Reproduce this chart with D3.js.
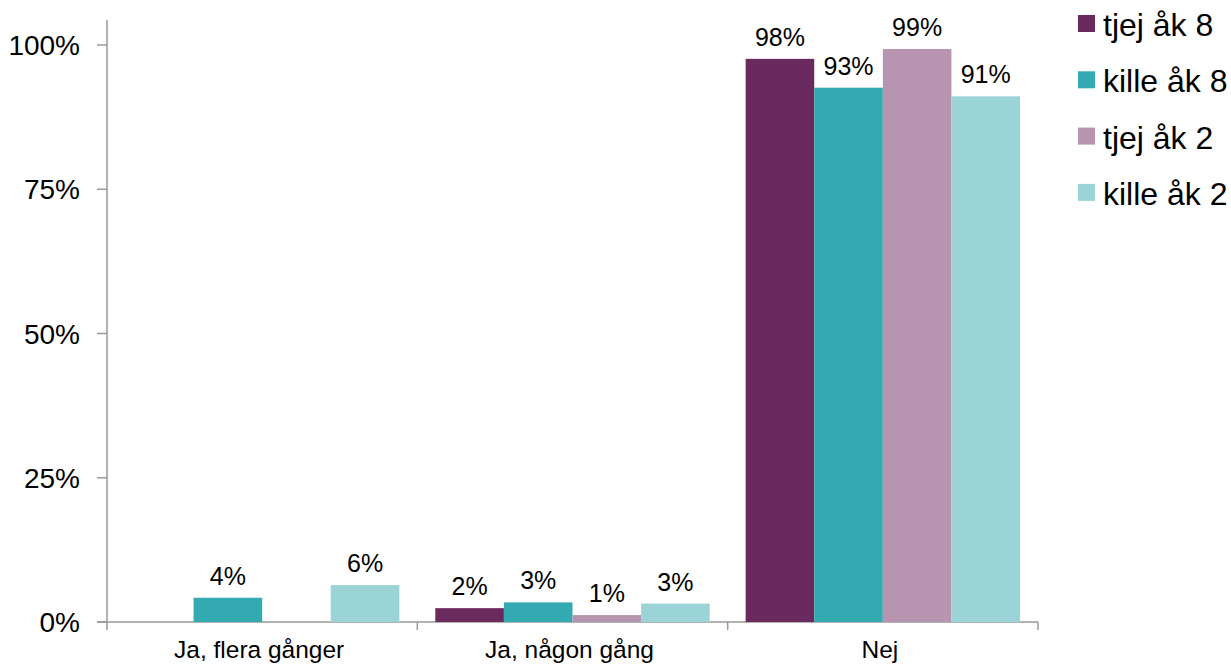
<!DOCTYPE html>
<html>
<head>
<meta charset="utf-8">
<script src="https://cdn.jsdelivr.net/npm/d3@7"></script>
<style>
  body { margin: 0; background: #fff; }
  svg { font-family: "Liberation Sans", Arial, sans-serif; }
</style>
</head>
<body>
<svg width="1231" height="666"></svg>
<script>
// categories and series
let categories = ["Ja, flera gånger", "Ja, någon gång", "Nej"];
let series = ["tjej åk 8", "kille åk 8", "tjej åk 2", "kille åk 2"];
let colors = ["#6a2a5e", "#33a9b1", "#b794af", "#9bd4d7"];

// percent per series, one value per category (null = no bar)
let tjej8 = [null, 2.4, 97.6];
let kille8 = [4.2, 3.4, 92.6];
let tjej2 = [null, 1.2, 99.3];
let kille2 = [6.4, 3.2, 91.1];

let yTicks = [0, 25, 50, 75, 100];

let values = [tjej8, kille8, tjej2, kille2];

var svg = d3.select("svg");

// scales
var x0 = d3
  .scaleBand()
  .domain(categories)
  .range([107, 1038])
  .padding(0);

var x1 = d3
  .scaleBand()
  .domain(series)
  .range([0, x0.bandwidth()])
  .paddingInner(0)
  .paddingOuter(0.262);

var y = d3.scaleLinear().domain([0, 100]).range([622, 45]);

let axisColor = "#9a9a9a";

// y axis
var yAxis = svg.append("g").attr("class", "y axis");
yAxis
  .append("line")
  .attr("x1", 107)
  .attr("x2", 107)
  .attr("y1", 20)
  .attr("y2", y(0))
  .attr("stroke", axisColor)
  .attr("stroke-width", 1.5);

yAxis
  .selectAll(".ytick")
  .data(yTicks)
  .enter()
  .append("line")
  .attr("x1", 97)
  .attr("x2", 107)
  .attr("y1", d => y(d))
  .attr("y2", d => y(d))
  .attr("stroke", axisColor)
  .attr("stroke-width", 1.5);

yAxis
  .selectAll(".ylabel")
  .data(yTicks)
  .enter()
  .append("text")
  .attr("x", 80)
  .attr("y", d => y(d))
  .attr("dy", "0.36em")
  .attr("text-anchor", "end")
  .attr("font-size", "28px")
  .attr("fill", "#000")
  .text(d => d + "%");

// x axis
var xAxis = svg.append("g").attr("class", "x axis");
xAxis
  .append("line")
  .attr("x1", 97)
  .attr("x2", 1038)
  .attr("y1", y(0))
  .attr("y2", y(0))
  .attr("stroke", axisColor)
  .attr("stroke-width", 1.5);

let bounds = categories.map(c => x0(c)).concat([x0.range()[1]]);
xAxis
  .selectAll(".xtick")
  .data(bounds)
  .enter()
  .append("line")
  .attr("x1", d => d)
  .attr("x2", d => d)
  .attr("y1", y(0))
  .attr("y2", y(0) + 8)
  .attr("stroke", axisColor)
  .attr("stroke-width", 1.5);

// category labels, kept just inside the bottom edge
xAxis
  .selectAll(".xlabel")
  .data(categories)
  .enter()
  .append("text")
  .attr("x", d => x0(d) + x0.bandwidth() / 2 - 3)
  .attr("y", 658)
  .attr("text-anchor", "middle")
  .attr("font-size", "24.5px")
  .attr("fill", "#000")
  .text(d => d);

// bars
var groups = svg
  .selectAll(".cat")
  .data(categories)
  .enter()
  .append("g")
  .attr("class", "cat")
  .attr("transform", d => "translate(" + x0(d) + ",0)");

groups.each(function(cat, ci) {
  let g = d3.select(this);
  let rows = series
    .map((s, si) => ({ s: s, si: si, v: values[si][ci] }))
    .filter(d => d.v != null);

  g.selectAll("rect")
    .data(rows)
    .enter()
    .append("rect")
    .attr("x", d => x1(d.s))
    .attr("width", x1.bandwidth())
    .attr("y", d => y(d.v))
    .attr("height", d => y(0) - y(d.v))
    .attr("fill", d => colors[d.si]);

  g.selectAll(".val")
    .data(rows)
    .enter()
    .append("text")
    .attr("x", d => x1(d.s) + x1.bandwidth() / 2)
    .attr("y", d => y(d.v) - 13)
    .attr("text-anchor", "middle")
    .attr("font-size", "25px")
    .attr("fill", "#000")
    .text(d => Math.round(d.v) + "%");
});

// legend
var legend = svg
  .selectAll(".legend")
  .data(series)
  .enter()
  .append("g")
  .attr("class", "legend")
  .attr("transform", (d, i) => "translate(1078," + (15 + i * 56.3) + ")");

legend
  .append("rect")
  .attr("width", 17)
  .attr("height", 17)
  .attr("fill", (d, i) => colors[i]);

legend
  .append("text")
  .attr("x", 25)
  .attr("y", 21)
  .attr("font-size", "32px")
  .attr("fill", "#000")
  .text(d => d);
</script>
</body>
</html>
